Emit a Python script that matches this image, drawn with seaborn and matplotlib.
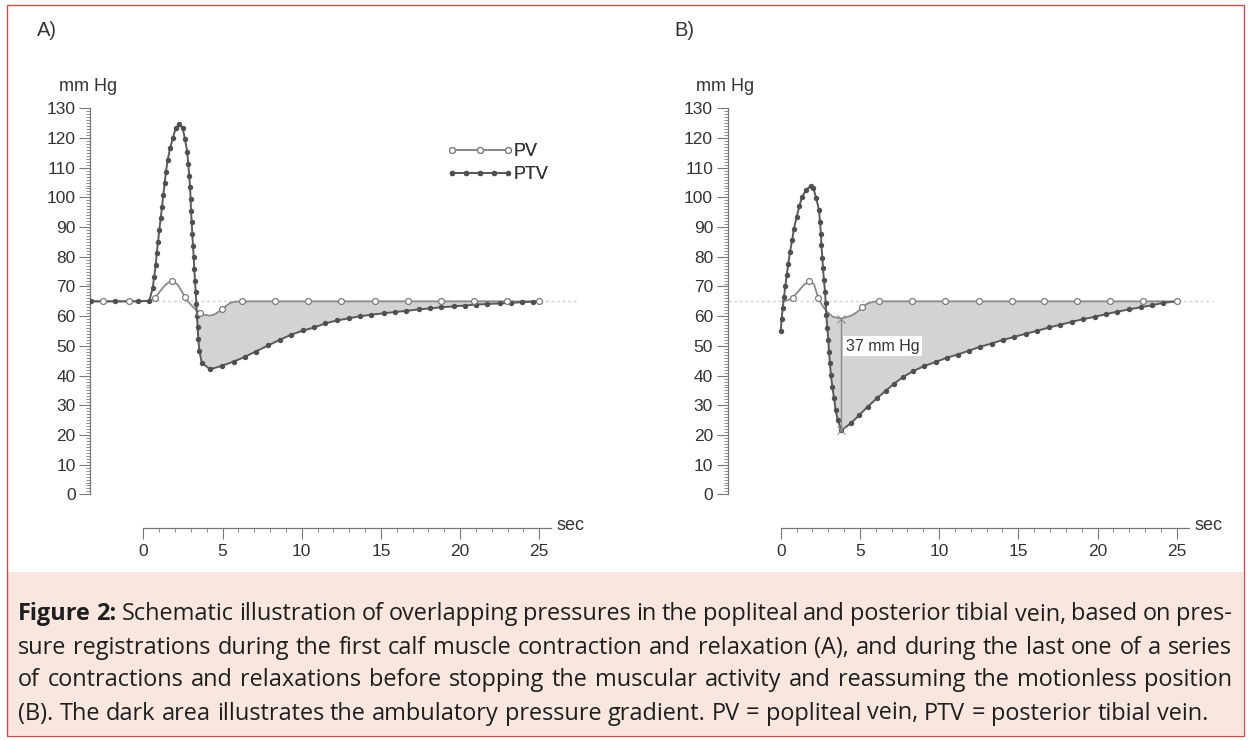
import numpy as np
import pandas as pd
import matplotlib
matplotlib.use("Agg")
import matplotlib.pyplot as plt
import seaborn as sns
from matplotlib.lines import Line2D
from matplotlib.legend_handler import HandlerLine2D
from matplotlib.patches import Rectangle
from matplotlib.ticker import FixedLocator

sns.set_style("white")
plt.rcParams["font.family"] = ["Liberation Sans", "DejaVu Sans"]

# ------------------------------------------------------------------ data
# Panel A: first contraction (time in s, pressure in mm Hg)
a_ptv_t = [-3.33, -1.79, -0.32, 0.38, 0.59, 0.69, 0.78, 0.85, 0.93, 1.01, 1.10, 1.18,
           1.26, 1.35, 1.43, 1.54, 1.69, 1.86, 2.05, 2.25, 2.49, 2.63, 2.78, 2.84, 2.90,
           2.95, 2.99, 3.01, 3.06, 3.09, 3.14, 3.18, 3.22, 3.26, 3.31, 3.35, 3.39, 3.43,
           3.47, 3.54, 3.69, 4.21, 4.95, 5.7, 6.4, 7.1, 7.9, 8.6, 9.3, 10.1, 10.8, 11.5,
           12.25, 13.0, 13.7, 14.4, 15.2, 15.9, 16.6, 17.4, 18.1, 18.8, 19.6, 20.3, 21.0,
           21.7, 22.5, 23.2, 23.9, 24.6, 25.0]
a_ptv_p = [65, 65, 65, 65.2, 69.4, 73.3, 77.2, 81.2, 85.1, 89.0, 93.0, 96.9,
           100.8, 104.7, 108.7, 112.6, 116.5, 119.9, 123.3, 124.6, 123.3, 119.6, 115.2, 111.2, 107.3,
           103.4, 99.4, 95.5, 91.6, 87.6, 83.7, 79.8, 75.9, 71.9, 68.0, 64.1, 60.1, 56.2,
           52.3, 48.3, 44.4, 42.1, 43.3, 44.7, 46.3, 48.1, 50.2, 52.0, 53.7, 55.2, 56.2, 57.6,
           58.6, 59.3, 60.0, 60.5, 61.0, 61.4, 61.8, 62.3, 62.6, 63.0, 63.3, 63.6, 63.9,
           64.1, 64.3, 64.5, 64.7, 64.9, 65.0]
a_pv_t = [-3.33, -2.56, -0.9, 0.3, 0.74, 1.0, 1.3, 1.55, 1.79, 2.0, 2.2, 2.4, 2.63, 2.85,
          3.1, 3.35, 3.6, 3.9, 4.2, 4.5, 4.97, 5.25, 5.5, 5.8, 6.21, 8.31, 10.42, 12.5,
          14.6, 16.7, 18.8, 20.9, 22.95, 25.0]
a_pv_p = [65, 65, 65, 65.1, 66.2, 68.0, 70.0, 71.2, 71.8, 71.4, 70.4, 68.6, 66.5, 64.8,
          63.3, 62.0, 61.0, 60.4, 60.2, 60.6, 62.3, 63.6, 64.5, 64.9, 65, 65, 65, 65,
          65, 65, 65, 65, 65, 65]
a_pv_mark_t = [-2.56, -0.9, 0.74, 1.79, 2.63, 3.6, 4.97, 6.21, 8.31, 10.42, 12.5, 14.6,
               16.7, 18.8, 20.9, 22.95, 25.0]
a_pv_mark_p = [65, 65, 66.2, 71.8, 66.5, 61.0, 62.3, 65, 65, 65, 65, 65, 65, 65, 65, 65, 65]

# Panel B: last contraction of a series
b_ptv_t = [0, 0.06, 0.13, 0.21, 0.29, 0.38, 0.48, 0.59, 0.72, 0.84, 1.01, 1.18, 1.36,
           1.6, 1.89, 2.06, 2.23, 2.42, 2.48, 2.54, 2.57, 2.63, 2.67, 2.73, 2.80, 2.84,
           2.88, 2.94, 3.01, 3.05, 3.11, 3.17, 3.26, 3.37, 3.47, 3.60, 3.83,
           4.42, 4.96, 5.49, 6.06, 6.63, 7.17, 7.74, 8.37, 9.05, 9.79, 10.48, 11.17,
           11.89, 12.58, 13.32, 14.01, 14.73, 15.47, 16.2, 16.94, 17.64, 18.37, 19.1,
           19.84, 20.54, 21.25, 21.99, 22.73, 23.46, 24.16, 25.0]
b_ptv_p = [55.1, 59.2, 62.8, 66.5, 70.1, 73.8, 77.7, 81.7, 85.6, 89.5, 93.5, 97.2, 100.2,
           102.5, 103.8, 103.2, 99.9, 95.7, 91.8, 87.8, 83.9, 79.7, 76.1, 72.1, 68.2, 64.3,
           60.3, 55.9, 51.9, 48.0, 44.1, 40.1, 36.2, 32.3, 28.3, 25.0, 21.6,
           23.9, 26.7, 29.5, 32.3, 34.9, 37.3, 39.6, 41.5, 43.2, 44.6, 46.0, 47.1,
           48.4, 49.7, 50.8, 52.0, 53.0, 54.1, 55.1, 56.2, 57.1, 58.1, 59.0,
           59.8, 60.7, 61.5, 62.3, 63.0, 63.7, 64.5, 65.0]
b_pv_t = [0.1, 0.45, 0.76, 1.1, 1.45, 1.81, 2.1, 2.38, 2.65, 2.9, 3.3, 3.85, 4.5, 4.85,
          5.14, 5.45, 5.8, 6.2, 8.3, 10.4, 12.5, 14.6, 16.6, 18.7, 20.8, 22.9, 25.0]
b_pv_p = [65.0, 65.4, 66.2, 68.3, 70.5, 71.8, 70.8, 66.0, 63.5, 61.6, 59.8, 59.2, 60.3,
          61.5, 63.0, 64.2, 64.8, 65, 65, 65, 65, 65, 65, 65, 65, 65, 65]
b_pv_mark_t = [0.76, 1.81, 2.38, 5.14, 6.2, 8.3, 10.4, 12.5, 14.6, 16.6, 18.7, 20.8, 22.9, 25.0]
b_pv_mark_p = [66.2, 71.8, 66.0, 63.0, 65, 65, 65, 65, 65, 65, 65, 65, 65, 65]

baseline = 65
x_ticks = [0, 5, 10, 15, 20, 25]
y_ticks = list(range(0, 131, 10))
series_labels = ["PV", "PTV"]
panel_labels = ["A)", "B)"]
gradient_label = "37 mm Hg"

caption_lines = [
    [("Figure 2:", "bold"),
     ("Schematic illustration of overlapping pressures in the popliteal and posterior tibial vein, based on pres-", "normal")],
    [("sure registrations during the first calf muscle contraction and relaxation (A), and during the last one of a series", "normal")],
    [("of contractions and relaxations before stopping the muscular activity and reassuming the motionless position", "normal")],
    [("(B). The dark area illustrates the ambulatory pressure gradient. PV = popliteal vein, PTV = posterior tibial vein.", "normal")],
]

# ------------------------------------------------------------------ style
W, H = 1250, 740
PTV_LINE, PTV_DOT = "#5a5a5a", "#505050"
PV_LINE, PV_EDGE = "#8a8a8a", "#7a7a7a"
FILL = "#d3d3d5"
AXIS = "#777777"
TXT = "#333333"
PX_PER_S, PX_PER_U = 15.84, 2.97
Y0_PX = 494.4
XLIM, YLIM = (-3.35, 28.0), (-11.2, 131.5)

fig = plt.figure(figsize=(W / 100, H / 100), dpi=100)
fig.patch.set_facecolor("white")
fig.patches.append(Rectangle((7 / W, 5 / H), 1236 / W, (735 - 572) / H,
                             transform=fig.transFigure, facecolor="#f9e6df",
                             edgecolor="none", zorder=0))
fig.patches.append(Rectangle((6.5 / W, 4.5 / H), 1237 / W, 731 / H,
                             transform=fig.transFigure, facecolor="none",
                             edgecolor="#c4504f", lw=1.0, zorder=1))


def gradient_polygon(pv_t, pv_p, ptv_t, ptv_p):
    pv_t, pv_p = np.asarray(pv_t, float), np.asarray(pv_p, float)
    ptv_t, ptv_p = np.asarray(ptv_t, float), np.asarray(ptv_p, float)
    diff = ptv_p - np.interp(ptv_t, pv_t, pv_p)
    i_peak = int(np.argmax(ptv_p))
    i = i_peak + int(np.argmax(diff[i_peak:] < 0))
    f = diff[i - 1] / (diff[i - 1] - diff[i])
    tc = ptv_t[i - 1] + f * (ptv_t[i] - ptv_t[i - 1])
    pc = np.interp(tc, pv_t, pv_p)
    m1, m2 = pv_t > tc, ptv_t > tc
    xs = np.r_[tc, pv_t[m1], ptv_t[m2][::-1]]
    ys = np.r_[pc, pv_p[m1], ptv_p[m2][::-1]]
    return xs, ys


def make_panel(x0_px, ptv_t, ptv_p, pv_t, pv_p, mk_t, mk_p, label):
    left = x0_px + XLIM[0] * PX_PER_S
    width = (XLIM[1] - XLIM[0]) * PX_PER_S
    bottom_py = Y0_PX - YLIM[0] * PX_PER_U
    height = (YLIM[1] - YLIM[0]) * PX_PER_U
    ax = fig.add_axes([left / W, (H - bottom_py) / H, width / W, height / H])
    ax.set_facecolor("none")
    ax.set_xlim(*XLIM)
    ax.set_ylim(*YLIM)

    xs, ys = gradient_polygon(pv_t, pv_p, ptv_t, ptv_p)
    ax.fill(xs, ys, color=FILL, lw=0, zorder=1)
    ax.hlines(baseline, XLIM[0], 27.3, colors="#cfcfcf", lw=1.0,
              linestyles=(0, (2, 2)), zorder=1.5)

    sns.lineplot(x=pv_t, y=pv_p, ax=ax, color=PV_LINE, lw=1.3, sort=False,
                 estimator=None, zorder=2)
    sns.lineplot(x=ptv_t, y=ptv_p, ax=ax, color=PTV_LINE, lw=1.4, sort=False,
                 estimator=None, marker="o", markersize=3.9, markerfacecolor=PTV_DOT,
                 markeredgewidth=0, zorder=3)
    sns.scatterplot(x=mk_t, y=mk_p, ax=ax, s=18, color="white", edgecolor=PV_EDGE,
                    linewidth=0.9, zorder=4)

    for s in ("top", "right"):
        ax.spines[s].set_visible(False)
    for s in ("left", "bottom"):
        ax.spines[s].set_color(AXIS)
        ax.spines[s].set_linewidth(0.9)
    ax.spines["left"].set_bounds(0, 130)
    ax.spines["bottom"].set_bounds(0, 25.75)

    ax.set_xticks(x_ticks)
    ax.set_yticks(y_ticks)
    ax.xaxis.set_minor_locator(FixedLocator(range(0, 26)))
    ax.yaxis.set_minor_locator(FixedLocator(range(0, 131)))
    ax.tick_params(which="both", bottom=True, left=True, direction="out", color=AXIS)
    ax.tick_params(which="major", length=8, width=0.8, labelsize=12.5, labelcolor=TXT)
    ax.tick_params(which="minor", length=2.8, width=0.6)
    ax.tick_params(axis="x", which="major", pad=4)
    ax.tick_params(axis="y", which="major", pad=2.5)
    ax.set_xlabel("")
    ax.set_ylabel("")

    ax.text(-3.49, 137.2, "mm Hg", ha="center", va="center", fontsize=13, color=TXT)
    ax.text(26.1, -10.4, "sec", ha="left", va="center", fontsize=13, color=TXT)

    h_pv = Line2D([], [], color=PV_LINE, lw=1.3, marker="o", ms=4.2, mfc="white",
                  mec=PV_EDGE, mew=0.9)
    h_ptv = Line2D([], [], color=PTV_LINE, lw=1.4, marker="o", ms=3.9, mfc=PTV_DOT,
                   mec=PTV_DOT, mew=0)
    fx = (451.7 - left) / width
    fy = (bottom_py - 143.5) / height
    leg = ax.legend([h_pv, h_ptv], series_labels,
                    handler_map={h_pv: HandlerLine2D(numpoints=3, marker_pad=0),
                                 h_ptv: HandlerLine2D(numpoints=5, marker_pad=0)},
                    frameon=False, loc="upper left", bbox_to_anchor=(fx, fy),
                    borderpad=0, borderaxespad=0, handlelength=3.1,
                    handletextpad=0.33, labelspacing=0.33, fontsize=13)
    for t in leg.get_texts():
        t.set_color(TXT)

    fig.text((x0_px - 106.3) / W, 1 - 31 / H, label, ha="left", va="center",
             fontsize=14.5, color=TXT)
    return ax


ax_a = make_panel(143.3, a_ptv_t, a_ptv_p, a_pv_t, a_pv_p, a_pv_mark_t, a_pv_mark_p,
                  panel_labels[0])
ax_b = make_panel(780.7, b_ptv_t, b_ptv_p, b_pv_t, b_pv_p, b_pv_mark_t, b_pv_mark_p,
                  panel_labels[1])

# ambulatory pressure gradient marker in panel B
i_min = int(np.argmin(b_ptv_p))
t_min = b_ptv_t[i_min]
pv_at = float(np.interp(t_min, b_pv_t, b_pv_p))
ax_b.plot([t_min, t_min], [b_ptv_p[i_min], pv_at], color="#8a8a8a", lw=1.0,
          marker="x", ms=6, mew=0.8, zorder=5)
ax_b.text(t_min + 0.27, (b_ptv_p[i_min] + pv_at) / 2 + 9.5, gradient_label,
          ha="left", va="center", fontsize=11.5, color=TXT, zorder=6,
          bbox=dict(boxstyle="square,pad=0.15", fc="white", ec="none"))

# ------------------------------------------------------------------ caption
CAP_FONT = ["Open Sans", "DejaVu Sans"]
renderer = fig.canvas.get_renderer()


def text_width(s, size, weight):
    t = fig.text(0, 0, s, fontsize=size, fontweight=weight, family=CAP_FONT)
    w = t.get_window_extent(renderer).width
    t.remove()
    return w


def words_of(line):
    out = []
    for chunk, wt in line:
        for w in chunk.split(" "):
            out.append((w, wt))
    return out


def natural_width(line, size):
    ws = words_of(line)
    sp = text_width("a a", size, "normal") - text_width("aa", size, "normal")
    return sum(text_width(w, size, wt) for w, wt in ws) + sp * (len(ws) - 1)


X_LEFT, X_RIGHT = 18.0, 1232.0
size = 14.0
# the unjustified last line ends at about x = 1210 px in the reference
size = float(np.clip(size * (1210 - X_LEFT) / natural_width(caption_lines[3], size), 11, 18))
space = text_width("a a", size, "normal") - text_width("aa", size, "normal")
baselines = [620.5, 653.5, 686.5, 719.5]
for k, line in enumerate(caption_lines):
    ws = words_of(line)
    widths = [text_width(w, size, wt) for w, wt in ws]
    if k < len(caption_lines) - 1:
        gap = max(space * 0.8, (X_RIGHT - X_LEFT - sum(widths)) / (len(ws) - 1))
    else:
        gap = space
    x = X_LEFT
    for (w, wt), wd in zip(ws, widths):
        fig.text(x / W, 1 - baselines[k] / H, w, fontsize=size, fontweight=wt,
                 family=CAP_FONT, ha="left", va="baseline", color="#1e1e1e")
        x += wd + gap

fig.savefig("out.png", dpi=100, facecolor="white")
